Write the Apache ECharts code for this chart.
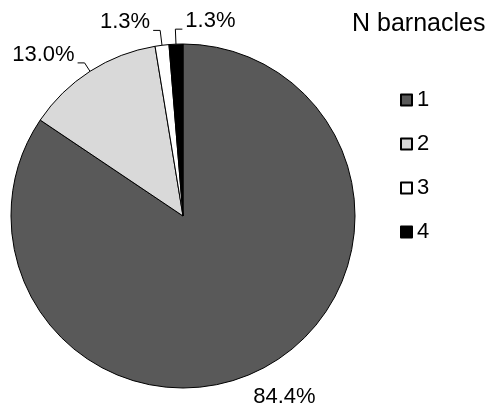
<!DOCTYPE html>
<html>
<head>
<meta charset="utf-8">
<script src="https://cdn.jsdelivr.net/npm/echarts@6/dist/echarts.min.js"></script>
<style>
  html, body { margin: 0; padding: 0; background: #fff; }
  #chart-dom { width: 491px; height: 407px; }
</style>
</head>
<body>
<div id="chart-dom"></div>
<script>
const categories = ['1', '2', '3', '4'];
const counts = [65, 10, 1, 1];
const percentLabels = ['84.4%', '13.0%', '1.3%', '1.3%'];
const sliceColors = ['#595959', '#d9d9d9', '#ffffff', '#000000'];

const cx = 183, cy = 216, r = 172;
const total = counts.reduce((a, b) => a + b, 0);

// mid angle of each slice, clockwise from 12 o'clock (radians)
const midAngles = [];
let acc = 0;
for (let i = 0; i < counts.length; i++) {
  midAngles.push((acc + counts[i] / 2) / total * Math.PI * 2);
  acc += counts[i];
}

const myChart = echarts.init(document.getElementById('chart-dom'));

const option = {
  animation: false,
  backgroundColor: '#ffffff',
  title: {
    text: 'N barnacles',
    left: 352,
    top: 12,
    padding: 0,
    textStyle: {
      color: '#000',
      fontSize: 25,
      fontWeight: 'normal',
      fontFamily: 'Liberation Sans, Arial'
    }
  },
  legend: {
    orient: 'vertical',
    left: 400,
    top: 89,
    padding: 0,
    itemWidth: 11,
    itemHeight: 11,
    itemGap: 22,
    icon: 'rect',
    data: categories,
    textStyle: {
      color: '#000',
      fontSize: 22,
      lineHeight: 22,
      fontFamily: 'Liberation Sans, Arial'
    }
  },
  series: [{
    type: 'pie',
    center: [cx, cy],
    radius: r,
    startAngle: 90,
    clockwise: true,
    avoidLabelOverlap: false,
    itemStyle: { borderColor: '#000', borderWidth: 1 },
    emphasis: { disabled: true },
    label: {
      show: true,
      position: 'outside',
      color: '#000',
      fontSize: 22,
      fontFamily: 'Liberation Sans, Arial',
      formatter: p => percentLabels[p.dataIndex]
    },
    labelLine: {
      show: true,
      length: 12,
      length2: 7,
      lineStyle: { color: '#000', width: 1 }
    },
    labelLayout: function (params) {
      const i = params.dataIndex;
      const a = midAngles[i];
      const sx = Math.sin(a), sy = -Math.cos(a);
      if (i === 0) {
        // big slice: label outside, no leader line
        const d = r + 33;
        const p = [cx + sx * r, cy + sy * r];
        return {
          x: cx + sx * d + 5,
          y: cy + sy * d,
          align: 'center',
          verticalAlign: 'middle',
          labelLinePoints: [p, p, p]
        };
      }
      const len = i === 1 ? 10 : 15;
      const p0 = [cx + sx * r, cy + sy * r];
      const p1 = [cx + sx * (r + len), cy + sy * (r + len)];
      const left = sx < -0.05;
      const p2 = [p1[0] + (left ? -7 : 7), p1[1]];
      return {
        x: p2[0] + (left ? -3 : 3),
        y: p2[1] - 8,
        align: left ? 'right' : 'left',
        verticalAlign: 'middle',
        labelLinePoints: [p0, p1, p2]
      };
    },
    data: categories.map((c, i) => ({
      name: c,
      value: counts[i],
      itemStyle: { color: sliceColors[i] }
    }))
  }]
};

myChart.setOption(option, true);
</script>
</body>
</html>
